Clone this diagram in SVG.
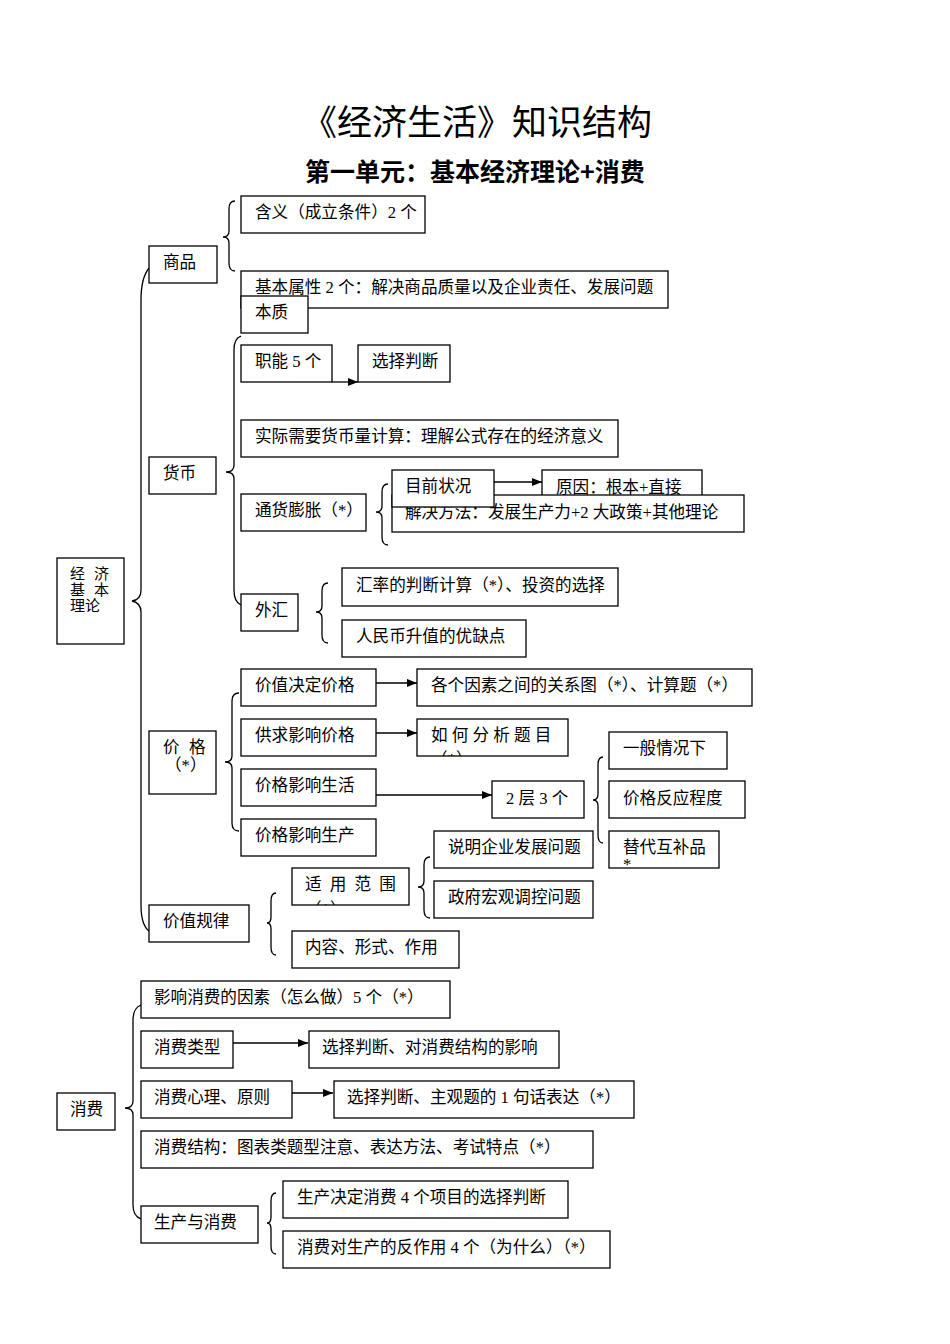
<svg xmlns="http://www.w3.org/2000/svg" width="950" height="1344" viewBox="0 0 950 1344">
<style>
.box{fill:#fff;stroke:#000;stroke-width:1.3}
.t{font-family:"Liberation Serif","Noto Sans CJK SC",serif;font-size:16.6px;fill:#000}
.br{fill:none;stroke:#000;stroke-width:1.3}
.ar{fill:none;stroke:#000;stroke-width:1.3;marker-end:url(#ah)}
.title{font-family:"Noto Sans CJK SC",sans-serif;font-size:35px;fill:#000}
.sub{font-family:"Noto Sans CJK SC",sans-serif;font-size:25px;font-weight:bold;fill:#000}
</style>
<defs>
<marker id="ah" viewBox="0 0 10 8" refX="10" refY="4" markerWidth="10" markerHeight="8" markerUnits="userSpaceOnUse" orient="auto"><path d="M0,0 L10,4 L0,8 z" fill="#000"/></marker>
<clipPath id="c20"><rect x="417" y="719" width="151" height="37"/></clipPath>
<clipPath id="c29"><rect x="292" y="868" width="117" height="37"/></clipPath>
</defs>
<rect width="950" height="1344" fill="#fff"/>
<text class="title" x="477" y="135" text-anchor="middle">《经济生活》知识结构</text>
<text class="sub" x="475" y="181" text-anchor="middle">第一单元：基本经济理论+消费</text>

<g id="connectors">
<path class="br" d="M149,268 Q141,278 141,300 L141,590 Q141,600 132,601 Q141,603 141,612 L141,905 Q141,925 149,931"/>
<path class="br" d="M235,201 Q229,201 229,209 L229,231 Q229,237 223,237 Q229,237 229,243 L229,263 Q229,271 235,271"/>
<path class="br" d="M241,336 Q234,338 234,350 L234,465 Q234,472 226,472 Q234,472 234,479 L234,590 Q234,602 241,605"/>
<path class="br" d="M388,484 Q382,484 382,492 L382,506 Q382,512 376,512 Q382,512 382,518 L382,537 Q382,545 388,545"/>
<path class="br" d="M328,583 Q322,583 322,591 L322,606 Q322,612 316,612 Q322,612 322,618 L322,635 Q322,643 328,643"/>
<path class="br" d="M239,693 Q232,693 232,701 L232,756 Q232,762 225,762 Q232,762 232,768 L232,823 Q232,831 239,831"/>
<path class="br" d="M603,757 Q598,757 598,765 L598,794 Q598,800 593,800 Q598,800 598,806 L598,835 Q598,843 603,843"/>
<path class="br" d="M430,857 Q424,857 424,865 L424,881 Q424,887 418,887 Q424,887 424,893 L424,910 Q424,918 430,918"/>
<path class="br" d="M276,893 Q271,893 271,901 L271,917 Q271,923 267,923 Q271,923 271,929 L271,947 Q271,955 276,955"/>
<path class="br" d="M141,1005 Q133,1008 133,1020 L133,1101 Q133,1108 125,1108 Q133,1108 133,1115 L133,1205 Q133,1216 141,1219"/>
<path class="br" d="M276,1193 Q271,1193 271,1201 L271,1217 Q271,1223 267,1223 Q271,1223 271,1229 L271,1246 Q271,1254 276,1254"/>
<line class="ar" x1="332" y1="382" x2="358" y2="382"/>
<line class="ar" x1="494" y1="482" x2="542" y2="482"/>
<line class="ar" x1="376" y1="683" x2="417" y2="683"/>
<line class="ar" x1="376" y1="733" x2="417" y2="733"/>
<line class="ar" x1="376" y1="795" x2="492" y2="795"/>
<line class="ar" x1="233" y1="1043" x2="308" y2="1043"/>
<line class="ar" x1="292" y1="1093" x2="333" y2="1093"/>
</g>

<g id="n1"><rect class="box" x="241" y="196" width="184" height="37"/><text class="t" x="255" y="218">含义（成立条件）2 个</text></g>
<g id="n2"><rect class="box" x="149" y="246" width="68" height="37"/><text class="t" x="163" y="268">商品</text></g>
<g id="n3"><rect class="box" x="241" y="271" width="427" height="37"/><text class="t" x="255" y="293">基本属性 2 个：解决商品质量以及企业责任、发展问题</text></g>
<g id="n4"><rect class="box" x="241" y="296" width="67" height="37"/><text class="t" x="255" y="318">本质</text></g>
<g id="n5"><rect class="box" x="241" y="345" width="91" height="37"/><text class="t" x="255" y="367">职能 5 个</text></g>
<g id="n6"><rect class="box" x="358" y="345" width="92" height="37"/><text class="t" x="372" y="367">选择判断</text></g>
<g id="n7"><rect class="box" x="241" y="420" width="377" height="37"/><text class="t" x="255" y="442">实际需要货币量计算：理解公式存在的经济意义</text></g>
<g id="n8"><rect class="box" x="149" y="457" width="67" height="37"/><text class="t" x="163" y="479">货币</text></g>
<g id="n9"><rect class="box" x="542" y="470" width="160" height="37"/><text class="t" x="556" y="493">原因：根本+直接</text></g>
<g id="n10"><rect class="box" x="392" y="495" width="352" height="37"/><text class="t" x="405" y="518">解决方法：发展生产力+2 大政策+其他理论</text></g>
<g id="n11"><rect class="box" x="392" y="470" width="102" height="37"/><text class="t" x="405" y="492">目前状况</text></g>
<g id="n12"><rect class="box" x="241" y="494" width="125" height="37"/><text class="t" x="255" y="516">通货膨胀（*）</text></g>
<g id="n13"><rect class="box" x="241" y="594" width="57" height="37"/><text class="t" x="255" y="616">外汇</text></g>
<g id="n14"><rect class="box" x="342" y="568" width="276" height="38"/><text class="t" x="356" y="591">汇率的判断计算（*）、投资的选择</text></g>
<g id="n15"><rect class="box" x="342" y="620" width="184" height="37"/><text class="t" x="356" y="642">人民币升值的优缺点</text></g>
<g id="n16"><rect class="box" x="57" y="558" width="67" height="86"/><text class="t" style="font-size:15px" x="70" y="579">经</text><text class="t" style="font-size:15px" x="94" y="579">济</text><text class="t" style="font-size:15px" x="70" y="595">基</text><text class="t" style="font-size:15px" x="94" y="595">本</text><text class="t" style="font-size:15px" x="70" y="611">理论</text></g>
<g id="n17"><rect class="box" x="241" y="669" width="135" height="37"/><text class="t" x="255" y="691">价值决定价格</text></g>
<g id="n18"><rect class="box" x="417" y="669" width="335" height="37"/><text class="t" x="431" y="691">各个因素之间的关系图（*）、计算题（*）</text></g>
<g id="n19"><rect class="box" x="241" y="719" width="135" height="37"/><text class="t" x="255" y="741">供求影响价格</text></g>
<g id="n20"><rect class="box" x="417" y="719" width="151" height="37"/><text class="t" x="431" y="741">如 何 分 析 题 目</text><text class="t" x="431" y="765" clip-path="url(#c20)">（*）</text></g>
<g id="n21"><rect class="box" x="149" y="731" width="67" height="63"/><text class="t" x="163" y="753">价</text><text class="t" x="189" y="753">格</text><text class="t" x="165" y="771">（*）</text></g>
<g id="n22"><rect class="box" x="241" y="769" width="135" height="37"/><text class="t" x="255" y="791">价格影响生活</text></g>
<g id="n23"><rect class="box" x="492" y="781" width="92" height="37"/><text class="t" x="506" y="804">2 层 3 个</text></g>
<g id="n24"><rect class="box" x="609" y="732" width="118" height="37"/><text class="t" x="623" y="754">一般情况下</text></g>
<g id="n25"><rect class="box" x="609" y="781" width="136" height="37"/><text class="t" x="623" y="804">价格反应程度</text></g>
<g id="n26"><rect class="box" x="609" y="831" width="110" height="37"/><text class="t" x="623" y="853">替代互补品</text><text class="t" x="623" y="870">*</text></g>
<g id="n27"><rect class="box" x="241" y="819" width="135" height="37"/><text class="t" x="255" y="841">价格影响生产</text></g>
<g id="n28"><rect class="box" x="434" y="831" width="159" height="37"/><text class="t" x="448" y="853">说明企业发展问题</text></g>
<g id="n29"><rect class="box" x="292" y="868" width="117" height="37"/><text class="t" x="305" y="890" letter-spacing="2">适 用 范 围</text><text class="t" x="305" y="915" clip-path="url(#c29)">（*）</text></g>
<g id="n30"><rect class="box" x="434" y="881" width="159" height="37"/><text class="t" x="448" y="903">政府宏观调控问题</text></g>
<g id="n31"><rect class="box" x="149" y="905" width="100" height="37"/><text class="t" x="163" y="927">价值规律</text></g>
<g id="n32"><rect class="box" x="292" y="931" width="167" height="37"/><text class="t" x="305" y="953">内容、形式、作用</text></g>
<g id="n33"><rect class="box" x="141" y="981" width="309" height="37"/><text class="t" x="154" y="1003">影响消费的因素（怎么做）5 个（*）</text></g>
<g id="n34"><rect class="box" x="141" y="1031" width="92" height="37"/><text class="t" x="154" y="1053">消费类型</text></g>
<g id="n35"><rect class="box" x="309" y="1031" width="250" height="37"/><text class="t" x="322" y="1053">选择判断、对消费结构的影响</text></g>
<g id="n36"><rect class="box" x="141" y="1081" width="151" height="37"/><text class="t" x="154" y="1103">消费心理、原则</text></g>
<g id="n37"><rect class="box" x="334" y="1081" width="300" height="37"/><text class="t" x="347" y="1103">选择判断、主观题的 1 句话表达（*）</text></g>
<g id="n38"><rect class="box" x="57" y="1093" width="58" height="37"/><text class="t" x="70" y="1115">消费</text></g>
<g id="n39"><rect class="box" x="141" y="1131" width="452" height="37"/><text class="t" x="154" y="1153">消费结构：图表类题型注意、表达方法、考试特点（*）</text></g>
<g id="n40"><rect class="box" x="141" y="1206" width="117" height="37"/><text class="t" x="154" y="1228">生产与消费</text></g>
<g id="n41"><rect class="box" x="283" y="1181" width="285" height="37"/><text class="t" x="297" y="1203">生产决定消费 4 个项目的选择判断</text></g>
<g id="n42"><rect class="box" x="283" y="1231" width="327" height="37"/><text class="t" x="297" y="1253">消费对生产的反作用 4 个（为什么）（*）</text></g>
</svg>
